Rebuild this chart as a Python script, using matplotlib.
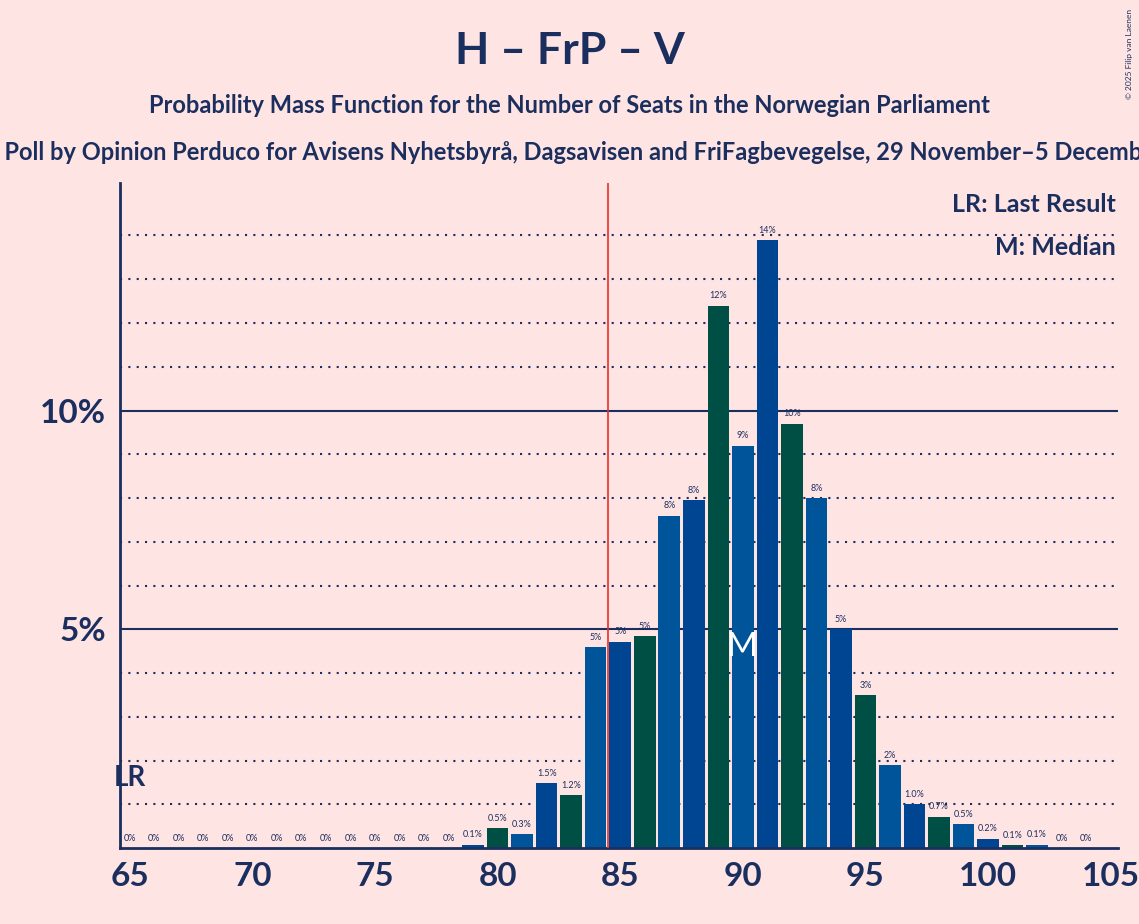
import matplotlib
matplotlib.use("Agg")
import matplotlib.pyplot as plt

plt.rcParams['font.family'] = ['Lato', 'DejaVu Sans']

seats = list(range(65, 105))
probs = [0]*14 + [0.08, 0.46, 0.32, 1.48, 1.21, 4.6, 4.72, 4.85, 7.6, 7.95,
                  12.4, 9.2, 13.9, 9.7, 8.0, 5.0, 3.5, 1.9, 1.0, 0.72,
                  0.55, 0.22, 0.07, 0.08, 0.0, 0.0]
labels = ["0%"]*14 + ["0.1%", "0.5%", "0.3%", "1.5%", "1.2%", "5%", "5%", "5%", "8%", "8%",
                      "12%", "9%", "14%", "10%", "8%", "5%", "3%", "2%", "1.0%", "0.7%",
                      "0.5%", "0.2%", "0.1%", "0.1%", "0%", "0%"]
last_result = 65
median = 90
majority = 84.5
palette = ["#00559A", "#004591", "#004F45"]

bg = "#FFE4E4"
navy = "#1B2F5E"
fig = plt.figure(figsize=(11.39, 9.24), dpi=100, facecolor=bg)
ax = fig.add_axes([0.1053, 0.082, 0.8763, 0.72], facecolor=bg)

for y in range(1, 15):
    if y % 5 == 0:
        ax.axhline(y, color=navy, lw=1.5, zorder=1)
    else:
        ax.axhline(y, color=navy, lw=1.5, ls=(0, (1, 3)), zorder=1)

cols = [palette[(s - 84) % 3] for s in seats]
ax.bar(seats, probs, width=0.88, color=cols, zorder=2)
for s, p, l in zip(seats, probs, labels):
    ax.text(s, p + 0.12, l, ha="center", va="bottom", fontsize=6.5, color=navy, zorder=3)

ax.axvline(majority, color="#E8302A", lw=1.2, zorder=3)
ax.text(median, probs[seats.index(median)] / 2, "M", ha="center", va="center",
        fontsize=24, color="white", zorder=4)
ax.text(last_result - 0.65, 1.6, "LR", ha="left", va="center", fontsize=20,
        fontweight="bold", color=navy)
ax.text(0.998, 0.985, "LR: Last Result", transform=ax.transAxes, ha="right", va="top",
        fontsize=18, fontweight="bold", color=navy)
ax.text(0.998, 0.92, "M: Median", transform=ax.transAxes, ha="right", va="top",
        fontsize=18, fontweight="bold", color=navy)

ax.set_xlim(64.6, 105.3)
ax.set_ylim(0, 15.2)
ax.set_xticks([65, 70, 75, 80, 85, 90, 95, 100, 105])
ax.set_yticks([5, 10])
ax.set_yticklabels(["5%", "10%"])
ax.tick_params(axis="both", length=0, labelsize=24, colors=navy, pad=10)
for t in ax.get_xticklabels() + ax.get_yticklabels():
    t.set_fontweight("bold")
for sp in ["top", "right"]:
    ax.spines[sp].set_visible(False)
ax.spines["left"].set_color(navy)
ax.spines["left"].set_linewidth(2)
ax.spines["bottom"].set_color(navy)
ax.spines["bottom"].set_linewidth(2)

fig.text(0.5, 0.945, "H – FrP – V", ha="center", va="center", fontsize=32,
         fontweight="bold", color=navy)
fig.text(0.5, 0.886, "Probability Mass Function for the Number of Seats in the Norwegian Parliament",
         ha="center", va="center", fontsize=17, fontweight="bold", color=navy)
fig.text(0.5, 0.835, "Opinion Poll by Opinion Perduco for Avisens Nyhetsbyrå, Dagsavisen and FriFagbevegelse, 29 November–5 December 2022",
         ha="center", va="center", fontsize=17, fontweight="bold", color=navy)
fig.text(0.995, 0.99, "© 2025 Filip van Laenen", ha="right", va="top", rotation=90,
         fontsize=6, color=navy)
fig.savefig("out.png", dpi=100, facecolor=bg)
